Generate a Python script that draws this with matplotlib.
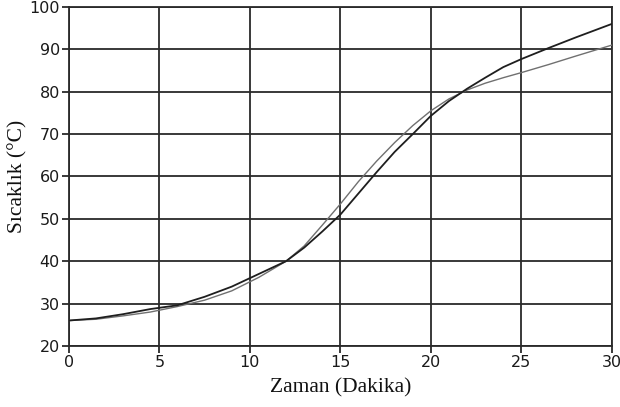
import matplotlib
matplotlib.use("Agg")
import matplotlib.pyplot as plt

# Time in minutes and temperature readings for the two runs
minutes = [0, 1.5, 3, 4.5, 6, 7.5, 9, 10.5, 12, 13, 14, 15, 16, 17, 18, 19,
           20, 21, 22, 23, 24, 25, 26.5, 28, 30]
temp_dark = [26.0, 26.5, 27.5, 28.7, 29.6, 31.6, 34.0, 37.0, 40.0, 43.2, 47.0,
             51.0, 56.0, 61.0, 65.8, 70.0, 74.3, 77.8, 80.7, 83.3, 85.8, 87.7,
             90.3, 92.8, 96.0]
temp_light = [26.0, 26.3, 27.1, 28.0, 29.3, 30.8, 33.0, 36.2, 40.0, 43.6, 48.5,
              53.5, 58.8, 63.6, 68.0, 72.0, 75.5, 78.3, 80.4, 82.0, 83.3, 84.5,
              86.4, 88.4, 91.0]

x_ticks = [0, 5, 10, 15, 20, 25, 30]
y_ticks = [20, 30, 40, 50, 60, 70, 80, 90, 100]

fig = plt.figure(figsize=(6.2, 4.07), dpi=100)
ax = fig.add_axes([0.111, 0.150, 0.876, 0.833])

ax.plot(minutes, temp_light, color="#707070", lw=1.0, zorder=3)
ax.plot(minutes, temp_dark, color="#1e1e1e", lw=1.3, zorder=4)

ax.set_xlim(0, 30)
ax.set_ylim(20, 100)
ax.set_xticks(x_ticks)
ax.set_yticks(y_ticks)
ax.grid(True, color="#2a2a2a", lw=1.3)
ax.set_axisbelow(True)
for s in ax.spines.values():
    s.set_color("#2a2a2a")
    s.set_linewidth(1.3)

ax.tick_params(direction="out", length=5, width=1.3, color="#2a2a2a",
               labelsize=11.5, pad=1.5)
for lab in ax.get_xticklabels() + ax.get_yticklabels():
    lab.set_fontfamily("DejaVu Sans")
    lab.set_color("#1a1a1a")

ax.set_xlabel("Zaman (Dakika)", family="Liberation Serif", fontsize=15.5,
              color="#111111", labelpad=6)
ax.set_ylabel("Sıcaklık (°C)", family="Liberation Serif", fontsize=15.5,
              color="#111111", labelpad=1)

fig.savefig("out.png", dpi=100, facecolor="white")
